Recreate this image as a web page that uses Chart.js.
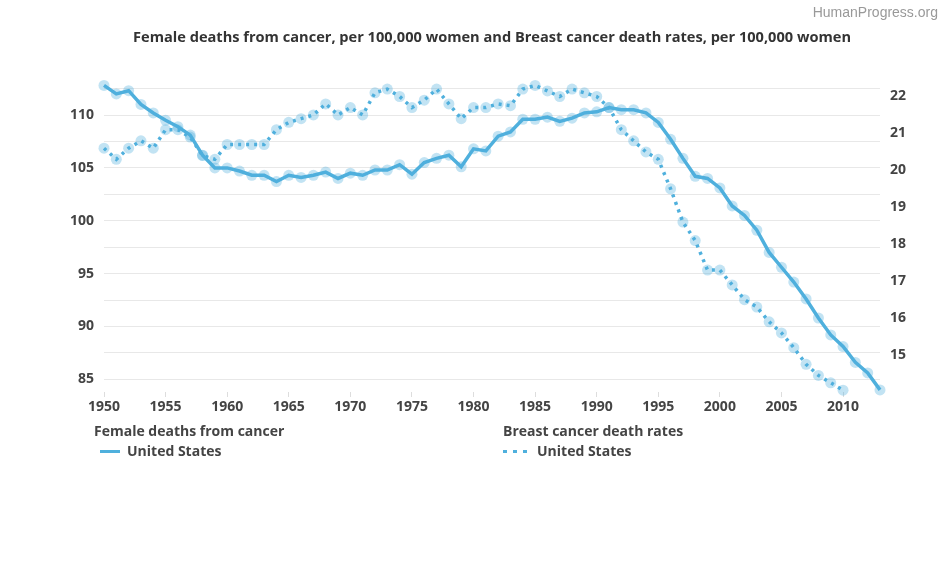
<!DOCTYPE html>
<html>
<head>
<meta charset="utf-8">
<script src="https://cdn.jsdelivr.net/npm/chart.js@4.4.1/dist/chart.umd.min.js"></script>
<style>
  body { margin: 0; background: #fff; }
  #wrap { position: relative; width: 945px; height: 562px; }
  #credit {
    position: absolute; right: 7px; top: 4px;
    font: 14px "Liberation Sans", Arial, sans-serif; color: #999;
  }
  .lg { position: absolute; font: bold 14px "Open Sans", sans-serif; color: #444; line-height: 18px; }
  .sw { position: absolute; height: 3px; }
</style>
</head>
<body>
<div id="wrap">
  <canvas id="chart" width="945" height="562"></canvas>
  <div id="credit">HumanProgress.org</div>

  <div class="lg" style="left:94px; top:422px;">Female deaths from cancer</div>
  <div class="sw" style="left:100px; top:450px; width:20px; background:#4fb0dd;"></div>
  <div class="lg" style="left:127px; top:442px;">United States</div>

  <div class="lg" style="left:503px; top:422px;">Breast cancer death rates</div>
  <div class="sw" style="left:503px; top:450px; width:26px; background:repeating-linear-gradient(90deg,#4fb0dd 0 4px,transparent 4px 10px);"></div>
  <div class="lg" style="left:537px; top:442px;">United States</div>
</div>

<script>
// DATOS
const years = [];
for (let y = 1950; y <= 2013; y++) years.push(y);

// female deaths from cancer, per 100,000 women (1950-2013)
const femaleDeaths = [
  112.8, 112.0, 112.3, 111.0, 110.2, 109.5, 108.9, 108.1, 106.2, 105.0,
  105.0, 104.7, 104.3, 104.3, 103.7, 104.3, 104.1, 104.3, 104.6, 104.0,
  104.5, 104.3, 104.8, 104.8, 105.3, 104.4, 105.5, 105.9, 106.2, 105.1,
  106.8, 106.6, 108.0, 108.4, 109.6, 109.6, 109.8, 109.4, 109.7, 110.2,
  110.3, 110.7, 110.5, 110.5, 110.2, 109.3, 107.7, 105.9, 104.2, 104.0,
  103.1, 101.4, 100.5, 99.1, 97.0, 95.6, 94.2, 92.6, 90.8, 89.2,
  88.1, 86.6, 85.6, 84.0
];

// breast cancer death rates, per 100,000 women (1950-2010)
const breastRates = [
  20.6, 20.3, 20.6, 20.8, 20.6, 21.1, 21.1, 20.9, 20.4, 20.3,
  20.7, 20.7, 20.7, 20.7, 21.1, 21.3, 21.4, 21.5, 21.8, 21.5,
  21.7, 21.5, 22.1, 22.2, 22.0, 21.7, 21.9, 22.2, 21.8, 21.4,
  21.7, 21.7, 21.8, 21.75, 22.2, 22.3, 22.15, 22.0, 22.2, 22.1,
  22.0, 21.7, 21.1, 20.8, 20.5, 20.3, 19.5, 18.6, 18.1, 17.3,
  17.3, 16.9, 16.5, 16.3, 15.9, 15.6, 15.2, 14.75, 14.45, 14.25,
  14.05
];

const titleText = "Female deaths from cancer, per 100,000 women and Breast cancer death rates, per 100,000 women";

// ESTILO
const blue = "#4fb0dd";
const halo = "rgba(79,176,221,0.35)";
const tickFont = { family: "Open Sans", size: 14, weight: "bold" };

// GRÁFICO
const ctx = document.getElementById("chart").getContext("2d");

const chart = new Chart(ctx, {
  type: "line",
  data: {
    datasets: [
      {
        label: "Female deaths from cancer",
        data: years.map((y, i) => ({ x: y, y: femaleDeaths[i] })),
        yAxisID: "y",
        borderColor: blue,
        borderWidth: 3.5,
        pointRadius: 5.5,
        pointBackgroundColor: halo,
        pointBorderWidth: 0,
        tension: 0,
        clip: false
      },
      {
        label: "Breast cancer death rates",
        data: breastRates.map((v, i) => ({ x: years[i], y: v })),
        yAxisID: "y1",
        borderColor: blue,
        borderWidth: 3.5,
        borderDash: [3, 5],
        pointRadius: 5.5,
        pointBackgroundColor: halo,
        pointBorderWidth: 0,
        tension: 0,
        clip: false
      }
    ]
  },
  options: {
    responsive: false,
    devicePixelRatio: 1,
    animation: false,
    layout: { padding: { top: 0, bottom: 140, left: 0, right: 0 } },
    plugins: {
      legend: { display: false },
      tooltip: { enabled: false },
      title: {
        display: true,
        fullSize: false,
        text: titleText,
        color: "#333",
        font: { family: "Open Sans", size: 14.6, weight: "bold" },
        padding: { top: 29, bottom: 31.5 }
      }
    },
    scales: {
      x: {
        type: "linear",
        min: 1950,
        max: 2013,
        border: { display: false },
        grid: { drawOnChartArea: false, tickLength: 5, color: "#ddd" },
        ticks: {
          stepSize: 5,
          includeBounds: false,
          maxRotation: 0,
          padding: 2,
          color: "#444",
          font: tickFont,
          callback: v => String(v)
        },
        afterFit: s => { s.height = 30; }
      },
      y: {
        position: "left",
        min: 83.8,
        max: 113.5,
        border: { display: false },
        grid: { color: "#e8e8e8", drawTicks: false },
        ticks: {
          stepSize: 2.5,
          includeBounds: false,
          padding: 10,
          color: "#444",
          font: tickFont,
          callback: v => (Math.abs(v % 5) < 0.01 ? String(v) : "")
        },
        afterFit: s => { s.width = 104; }
      },
      y1: {
        position: "right",
        min: 14,
        max: 22.5,
        border: { display: false },
        grid: { display: false, drawTicks: false },
        ticks: {
          stepSize: 1,
          includeBounds: false,
          padding: 10,
          color: "#444",
          font: tickFont,
          callback: v => (v >= 15 ? String(v) : "")
        },
        afterFit: s => { s.width = 65; }
      }
    }
  }
});
</script>
</body>
</html>
